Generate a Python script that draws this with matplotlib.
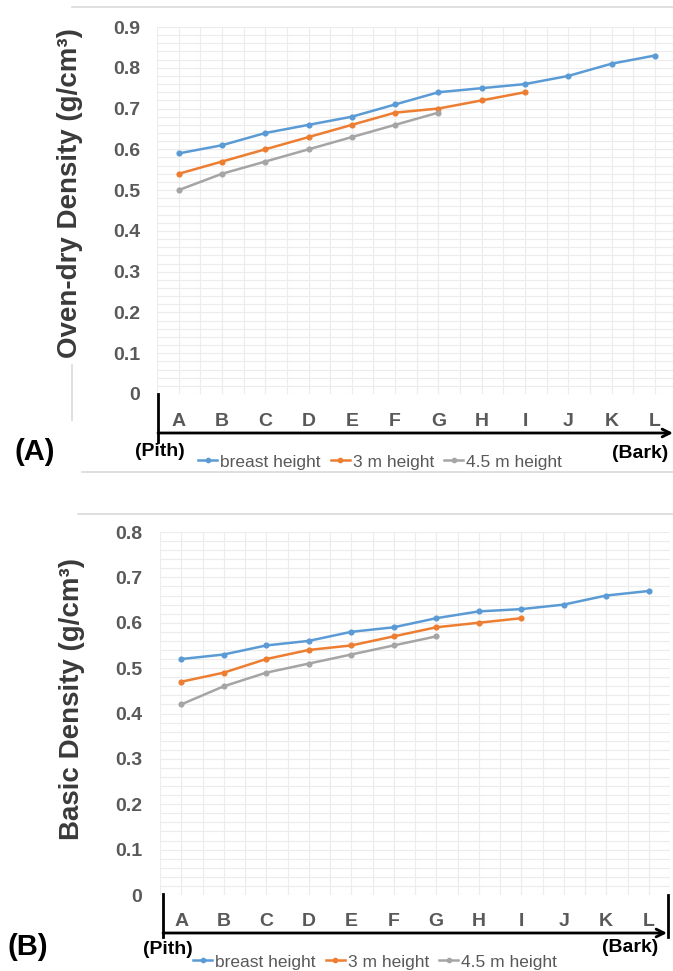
import matplotlib
matplotlib.use('Agg')
import matplotlib.pyplot as plt
import numpy as np
from matplotlib.lines import Line2D
from matplotlib.transforms import blended_transform_factory

plt.rcParams['font.family'] = ['Liberation Sans', 'DejaVu Sans']

# ---------------- data ----------------
categories = ['A', 'B', 'C', 'D', 'E', 'F', 'G', 'H', 'I', 'J', 'K', 'L']
series_names = ['breast height', '3 m height', '4.5 m height']
series_colors = ['#5B9BD5', '#ED7D31', '#A5A5A5']

oven_breast = [0.59, 0.61, 0.64, 0.66, 0.68, 0.71, 0.74, 0.75, 0.76, 0.78, 0.81, 0.83]
oven_3m = [0.54, 0.57, 0.60, 0.63, 0.66, 0.69, 0.70, 0.72, 0.74]
oven_45m = [0.50, 0.54, 0.57, 0.60, 0.63, 0.66, 0.69]

basic_breast = [0.52, 0.53, 0.55, 0.56, 0.58, 0.59, 0.61, 0.625, 0.63, 0.64, 0.66, 0.67]
basic_3m = [0.47, 0.49, 0.52, 0.54, 0.55, 0.57, 0.59, 0.60, 0.61]
basic_45m = [0.42, 0.46, 0.49, 0.51, 0.53, 0.55, 0.57]

oven_yticks = [0, 0.1, 0.2, 0.3, 0.4, 0.5, 0.6, 0.7, 0.8, 0.9]
oven_yticklabels = ['0', '0.1', '0.2', '0.3', '0.4', '0.5', '0.6', '0.7', '0.8', '0.9']
basic_yticks = [0, 0.1, 0.2, 0.3, 0.4, 0.5, 0.6, 0.7, 0.8]
basic_yticklabels = ['0', '0.1', '0.2', '0.3', '0.4', '0.5', '0.6', '0.7', '0.8']

oven_ylabel = 'Oven-dry Density (g/cm³)'
basic_ylabel = 'Basic Density (g/cm³)'

# ---------------- layout helpers ----------------
W, H = 673, 971
fig = plt.figure(figsize=(W / 100, H / 100), dpi=100)
fig.patch.set_facecolor('white')


def fx(px):
    return px / W


def fy(py):
    return 1 - py / H


def hline(x0, x1, y, **kw):
    fig.add_artist(Line2D([fx(x0), fx(x1)], [fy(y), fy(y)], transform=fig.transFigure, **kw))


def vline(x, y0, y1, **kw):
    fig.add_artist(Line2D([fx(x), fx(x)], [fy(y0), fy(y1)], transform=fig.transFigure, **kw))


TICK_COLOR = '#595959'
GRID_COLOR = '#ececec'
FRAME_COLOR = '#d9d9d9'

panels = [
    dict(series=[oven_breast, oven_3m, oven_45m], yticks=oven_yticks, yticklabels=oven_yticklabels,
         ymax=0.9, ylabel=oven_ylabel,
         L=157, R=673, T=27, B=394, xlim=(-0.5, 11.42),
         ylab_x=70, ylab_y=193, ypad=12,
         letter_y=422, arrow_y=433, vx=158, vy0=394, vy1=442, arrow_end=673, right_bar=None,
         pith=(160, 452), bark=(640, 453), tag='(A)', tag_pos=(35, 452), leg=(380, 462),
         frame_top=(72, 7), frame_bottom=(82, 472), frame_left=(72, 365, 420)),
    dict(series=[basic_breast, basic_3m, basic_45m], yticks=basic_yticks, yticklabels=basic_yticklabels,
         ymax=0.8, ylabel=basic_ylabel,
         L=160, R=670, T=532, B=895, xlim=(-0.5, 11.5),
         ylab_x=72, ylab_y=699, ypad=13,
         letter_y=922, arrow_y=933, vx=163, vy0=894, vy1=937, arrow_end=667, right_bar=(668, 895, 937),
         pith=(168, 949), bark=(630, 947), tag='(B)', tag_pos=(28, 947), leg=(375, 962),
         frame_top=(78, 514), frame_bottom=None, frame_left=None),
]

for p in panels:
    ax = fig.add_axes([fx(p['L']), fy(p['B']), fx(p['R']) - fx(p['L']), (p['B'] - p['T']) / H])
    ax.set_facecolor('white')
    x_idx_all = np.arange(len(categories))
    for vals, col, name in zip(p['series'], series_colors, series_names):
        ax.plot(x_idx_all[:len(vals)], vals, color=col, lw=1.8, marker='o', ms=3.4,
                label=name, zorder=3, clip_on=False)
    ax.set_xticks([])
    ax.set_xticks(np.arange(-0.5, 12.01, 0.5), minor=True)
    ax.set_yticks(p['yticks'])
    ax.set_yticklabels(p['yticklabels'], fontsize=14, fontweight='bold', color=TICK_COLOR)
    ax.set_yticks(np.arange(0, p['ymax'] + 0.001, 0.02), minor=True)
    ax.set_xlim(*p['xlim'])
    ax.set_ylim(0, p['ymax'])
    ax.tick_params(axis='both', which='both', length=0)
    ax.tick_params(axis='y', pad=p['ypad'])
    ax.grid(True, which='both', color=GRID_COLOR, lw=0.8, zorder=0)
    ax.set_axisbelow(True)
    for s in ax.spines.values():
        s.set_visible(False)

    # category letters along the arrow axis
    tr = blended_transform_factory(ax.transData, fig.transFigure)
    for i, c in enumerate(categories):
        ax.text(i, fy(p['letter_y']), c, transform=tr, ha='center', va='center',
                fontsize=14, fontweight='bold', color=TICK_COLOR)

    # y label
    fig.text(fx(p['ylab_x']), fy(p['ylab_y']), p['ylabel'], rotation=90, ha='center', va='center',
             fontsize=20, fontweight='bold', color='#3a3a3a')

    # axis arrow and bars
    vline(p['vx'], p['vy0'], p['vy1'], color='black', lw=2.0)
    fig.add_artist(matplotlib.patches.FancyArrowPatch(
        (fx(p['vx']), fy(p['arrow_y'])), (fx(p['arrow_end']), fy(p['arrow_y'])),
        transform=fig.transFigure, arrowstyle='->', mutation_scale=14, lw=2.0, color='black',
        shrinkA=0, shrinkB=0))
    if p['right_bar'] is not None:
        rx, ry0, ry1 = p['right_bar']
        vline(rx, ry0, ry1, color='black', lw=2.0)

    fig.text(fx(p['pith'][0]), fy(p['pith'][1]), '(Pith)', ha='center', va='center',
             fontsize=14, fontweight='bold', color='black')
    fig.text(fx(p['bark'][0]), fy(p['bark'][1]), '(Bark)', ha='center', va='center',
             fontsize=14, fontweight='bold', color='black')
    fig.text(fx(p['tag_pos'][0]), fy(p['tag_pos'][1]), p['tag'], ha='center', va='center',
             fontsize=21, fontweight='bold', color='black')

    handles, labels = ax.get_legend_handles_labels()
    fig.legend(handles, labels, loc='center', bbox_to_anchor=(fx(p['leg'][0]), fy(p['leg'][1])),
               ncol=3, frameon=False, fontsize=12.5, handlelength=1.1, handletextpad=0.15,
               columnspacing=0.6, labelcolor=TICK_COLOR, borderpad=0, borderaxespad=0,
               markerscale=0.9)

    # faint chart frame
    if p['frame_top'] is not None:
        hline(p['frame_top'][0], W, p['frame_top'][1], color=FRAME_COLOR, lw=1.2)
    if p['frame_bottom'] is not None:
        hline(p['frame_bottom'][0], W, p['frame_bottom'][1], color=FRAME_COLOR, lw=1.2)
    if p['frame_left'] is not None:
        vline(p['frame_left'][0], p['frame_left'][1], p['frame_left'][2], color=FRAME_COLOR, lw=1.2)

fig.savefig('out.png', dpi=100, facecolor='white')
